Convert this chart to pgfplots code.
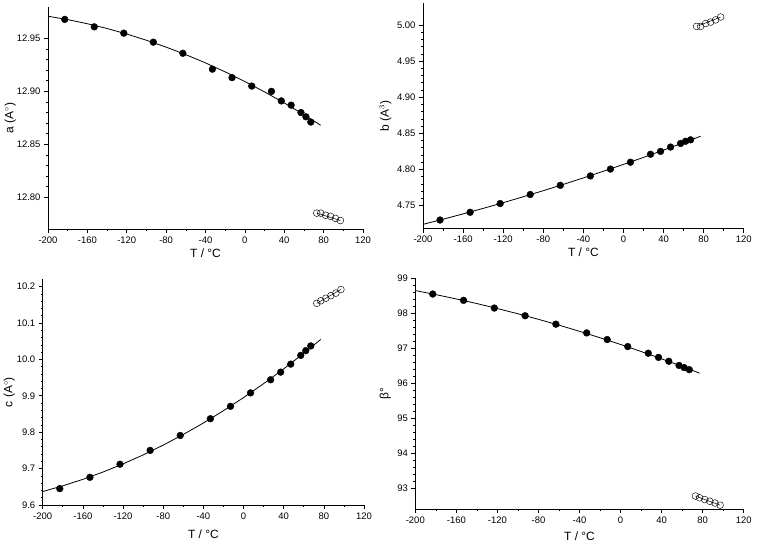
\documentclass[border=0pt]{standalone}
\usepackage{fontspec}
\setmainfont{Liberation Sans}
\usepackage{pgfplots}
\pgfplotsset{compat=1.18}

% lattice parameters versus temperature: low-T phase (filled) and high-T phase (open)
\pgfplotsset{
  panel/.style={
    scale only axis,
    axis x line*=bottom, axis y line*=left,
    tick align=outside,
    xmin=-200, xmax=120,
    xtick={-200,-160,...,120},
    minor x tick num=1, minor y tick num=4,
    major tick length=4bp, minor tick length=2bp,
    every tick/.style={black, line width=0.6pt},
    axis line style={black, line width=0.7pt},
    tick label style={font=\fontsize{9.5}{11}\selectfont},
    label style={font=\fontsize{12}{14}\selectfont},
    /pgf/number format/assume math mode=true,
    scaled y ticks=false,
    xlabel={T / °C},
    clip=false,
  },
  lowT/.style={only marks, mark=*, mark size=3.4bp, mark options={fill=black, draw=black}},
  highT/.style={only marks, mark=o, mark size=3.4bp, mark options={draw=black, line width=0.45pt}},
  fit/.style={black, line width=0.8pt, mark=none},
}

\begin{document}
\begin{tikzpicture}
\useasboundingbox (0,0) rectangle (758bp,546bp);

% ---------------- a ----------------
\begin{axis}[panel, at={(48bp,317bp)}, anchor=south west,
  width=315bp, height=222.3bp,
  ymin=12.77, ymax=12.98,
  ytick={12.80,12.85,12.90,12.95},
  yticklabel style={/pgf/number format/fixed, /pgf/number format/fixed zerofill, /pgf/number format/precision=2},
  ylabel={a (A$^{\circ}$)},
  xlabel style={at={(axis description cs:0.5,-0.108)}, anchor=center},
  ylabel style={at={(axis description cs:-0.120,0.5)}, anchor=center},
]
\addplot[fit] coordinates {(-200,12.9710) (-180,12.9678) (-160,12.9639) (-140,12.9594) (-120,12.9542)
  (-100,12.9483) (-80,12.9418) (-60,12.9347) (-40,12.9269) (-20,12.9184) (0,12.9093)
  (20,12.8995) (40,12.8891) (60,12.8780) (77,12.8680)};
\addplot[lowT] coordinates {(-183,12.968) (-153,12.961) (-123,12.955) (-93,12.9465) (-63,12.936)
  (-33,12.921) (-13,12.913) (7,12.905) (27,12.900) (37,12.891) (47,12.887) (57,12.880)
  (62,12.876) (67,12.871)};
\addplot[fit, line width=0.5pt] coordinates {(73,12.785) (97,12.778)};
\addplot[highT] coordinates {(73,12.785) (77,12.785) (82,12.783) (87,12.782) (92,12.780) (97,12.778)};
\end{axis}

% ---------------- b ----------------
\begin{axis}[panel, at={(423bp,317.3bp)}, anchor=south west,
  width=320.7bp, height=225.4bp,
  ymin=4.718, ymax=5.03,
  ytick={4.75,4.80,4.85,4.90,4.95,5.00},
  yticklabel style={/pgf/number format/fixed, /pgf/number format/fixed zerofill, /pgf/number format/precision=2},
  ylabel={b (A$^{3}$)},
  xlabel style={at={(axis description cs:0.5,-0.1065)}, anchor=center},
  ylabel style={at={(axis description cs:-0.1176,0.5)}, anchor=center},
]
\addplot[fit] coordinates {(-200,4.7240) (-180,4.7311) (-160,4.7385) (-140,4.7461) (-120,4.7540)
  (-100,4.7622) (-80,4.7706) (-60,4.7793) (-40,4.7883) (-20,4.7975) (0,4.8070)
  (20,4.8167) (40,4.8268) (60,4.8370) (77,4.8460)};
\addplot[lowT] coordinates {(-183,4.730) (-153,4.7407) (-123,4.7528) (-93,4.7653) (-63,4.778)
  (-33,4.791) (-13,4.8005) (7,4.810) (27,4.821) (37,4.825) (47,4.831) (57,4.836)
  (62,4.839) (67,4.841)};
\addplot[fit, line width=0.5pt] coordinates {(75,4.999) (97,5.011)};
\addplot[highT] coordinates {(73,4.998) (77,4.998) (82,5.002) (87,5.004) (92,5.007) (97,5.011)};
\end{axis}

% ---------------- c ----------------
\begin{axis}[panel, at={(42.7bp,41bp)}, anchor=south west,
  width=321.3bp, height=225.7bp,
  ymin=9.6, ymax=10.22,
  ytick={9.6,9.7,9.8,9.9,10.0,10.1,10.2},
  yticklabel style={/pgf/number format/fixed, /pgf/number format/fixed zerofill, /pgf/number format/precision=1},
  ylabel={c (A$^{\circ}$)},
  xlabel style={at={(axis description cs:0.5,-0.128)}, anchor=center},
  ylabel style={at={(axis description cs:-0.104,0.5)}, anchor=center},
]
\addplot[fit] coordinates {(-200,9.6370) (-180,9.6526) (-160,9.6704) (-140,9.6905) (-120,9.7129)
  (-100,9.7376) (-80,9.7645) (-60,9.7937) (-40,9.8252) (-20,9.8590) (0,9.8950)
  (20,9.9333) (40,9.9739) (60,10.0168) (77,10.0550)};
\addplot[lowT] coordinates {(-183,9.645) (-153,9.676) (-123,9.712) (-93,9.750) (-63,9.791)
  (-33,9.837) (-13,9.871) (7,9.908) (27,9.944) (37,9.965) (47,9.987) (57,10.011)
  (62,10.024) (67,10.037)};
\addplot[fit, line width=0.5pt] coordinates {(73,10.154) (97,10.192)};
\addplot[highT] coordinates {(73,10.154) (77,10.161) (82,10.168) (87,10.175) (92,10.182) (97,10.192)};
\end{axis}

% ---------------- beta ----------------
\begin{axis}[panel, at={(415.3bp,37bp)}, anchor=south west,
  width=328.4bp, height=230.7bp,
  ymin=92.41, ymax=99,
  ytick={93,94,95,96,97,98,99},
  ylabel={β°},
  xlabel style={at={(axis description cs:0.5,-0.12)}, anchor=center},
  ylabel style={at={(axis description cs:-0.0914,0.5)}, anchor=center},
]
\addplot[fit] coordinates {(-200,98.650) (-180,98.534) (-160,98.410) (-140,98.278) (-120,98.136)
  (-100,97.987) (-80,97.828) (-60,97.662) (-40,97.486) (-20,97.302) (0,97.110)
  (20,96.909) (40,96.700) (60,96.482) (77,96.290)};
\addplot[lowT] coordinates {(-183,98.55) (-153,98.37) (-123,98.15) (-93,97.93) (-63,97.69)
  (-33,97.44) (-13,97.25) (7,97.05) (27,96.86) (37,96.74) (47,96.63) (57,96.51)
  (62,96.45) (67,96.39)};
\addplot[fit, line width=0.5pt] coordinates {(73,92.78) (97,92.52)};
\addplot[highT] coordinates {(73,92.78) (77,92.73) (82,92.68) (87,92.63) (92,92.58) (97,92.52)};
\end{axis}
\end{tikzpicture}
\end{document}
